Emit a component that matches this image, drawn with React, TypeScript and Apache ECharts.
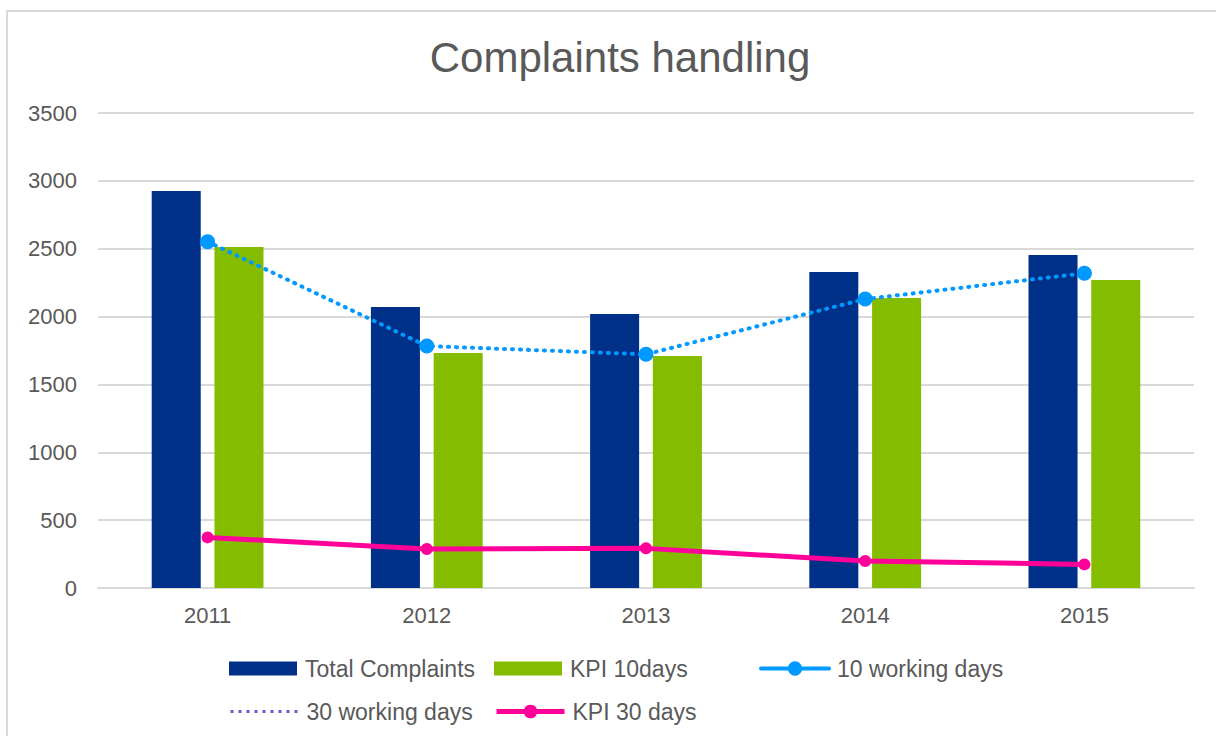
import React, { useEffect, useRef } from "react";
import * as echarts from "echarts";

const years = ["2011", "2012", "2013", "2014", "2015"];
const totalComplaints = [2925, 2071, 2019, 2328, 2454];
const kpi10days = [2513, 1731, 1709, 2137, 2269];
const tenWorkingDays = [2552, 1783, 1722, 2129, 2319];
const thirtyWorkingDays: (number | null)[] = [null, null, null, null, null];
const kpi30days = [373, 287, 292, 199, 174];

const FONT = "'Liberation Sans', Arial, sans-serif";
const TXT = "#595959";
const C_TOTAL = "#003087";
const C_KPI10 = "#84BD00";
const C_10WD = "#0099FF";
const C_30WD = "#6A5ACD";
const C_KPI30 = "#FF0099";

function legendAt(name: string, left: number, top: number, extra: any = {}, h = 14) {
  return {
    left,
    top,
    itemWidth: 68,
    itemHeight: h,
    padding: 0,
    textStyle: { fontFamily: FONT, fontSize: 23, color: TXT, padding: [0, 0, 0, 3] },
    data: [{ name, ...extra }],
    selectedMode: false,
  };
}

export default function App() {
  const ref = useRef<HTMLDivElement>(null);
  useEffect(() => {
    document.body.style.margin = "0";
    const chart = echarts.init(ref.current!, null, { renderer: "svg" });
    chart.setOption({
      animation: false,
      backgroundColor: "#ffffff",
      title: {
        text: "Complaints handling",
        left: 615,
        textAlign: "center",
        top: 31,
        textStyle: { fontFamily: FONT, fontSize: 42, fontWeight: "normal", color: TXT },
      },
      graphic: [
        {
          type: "rect",
          shape: { x: 7, y: 11, width: 1300, height: 800 },
          style: { fill: "none", stroke: "#d9d9d9", lineWidth: 2 },
          silent: true,
        },
      ],
      legend: [
        legendAt("Total Complaints", 229, 657, { icon: "rect" }),
        legendAt("KPI 10days", 494, 657, { icon: "rect" }),
        legendAt(
          "10 working days",
          759,
          657,
          { lineStyle: { type: "solid", width: 4, color: C_10WD } },
          18
        ),
        legendAt("30 working days", 229, 700, {
          itemStyle: { opacity: 0 },
          lineStyle: { type: [3, 5], width: 3, color: C_30WD },
        }),
        legendAt(
          "KPI 30 days",
          494,
          700,
          { lineStyle: { type: "solid", width: 5, color: C_KPI30 } },
          17
        ),
      ],
      grid: { left: 98, right: 22, top: 113, bottom: 148, containLabel: false },
      xAxis: {
        type: "category",
        data: years,
        axisTick: { show: false },
        axisLine: { lineStyle: { color: "#d9d9d9", width: 2 } },
        axisLabel: { fontFamily: FONT, fontSize: 22, color: TXT, margin: 16 },
      },
      yAxis: {
        type: "value",
        min: 0,
        max: 3500,
        interval: 500,
        axisLine: { show: false },
        axisTick: { show: false },
        splitLine: { lineStyle: { color: "#d9d9d9", width: 2 } },
        axisLabel: {
          fontFamily: FONT,
          fontSize: 22,
          color: TXT,
          margin: 21,
          formatter: (v: number) => String(v),
        },
      },
      series: [
        {
          name: "Total Complaints",
          type: "bar",
          data: totalComplaints,
          itemStyle: { color: C_TOTAL },
          barGap: "28%",
          barCategoryGap: "49%",
        },
        {
          name: "KPI 10days",
          type: "bar",
          data: kpi10days,
          itemStyle: { color: C_KPI10 },
        },
        {
          name: "10 working days",
          type: "line",
          data: tenWorkingDays,
          symbol: "circle",
          symbolSize: 15,
          itemStyle: { color: C_10WD },
          lineStyle: { color: C_10WD, width: 4, type: [1, 7], cap: "round" },
          z: 3,
        },
        {
          name: "30 working days",
          type: "line",
          data: thirtyWorkingDays,
          symbol: "none",
          itemStyle: { color: C_30WD },
          lineStyle: { color: C_30WD, width: 3, type: [3, 5] },
        },
        {
          name: "KPI 30 days",
          type: "line",
          data: kpi30days,
          symbol: "circle",
          symbolSize: 12,
          itemStyle: { color: C_KPI30 },
          lineStyle: { color: C_KPI30, width: 5 },
          z: 3,
        },
      ],
    });
    return () => chart.dispose();
  }, []);
  return <div ref={ref} style={{ width: 1216, height: 736 }} />;
}
